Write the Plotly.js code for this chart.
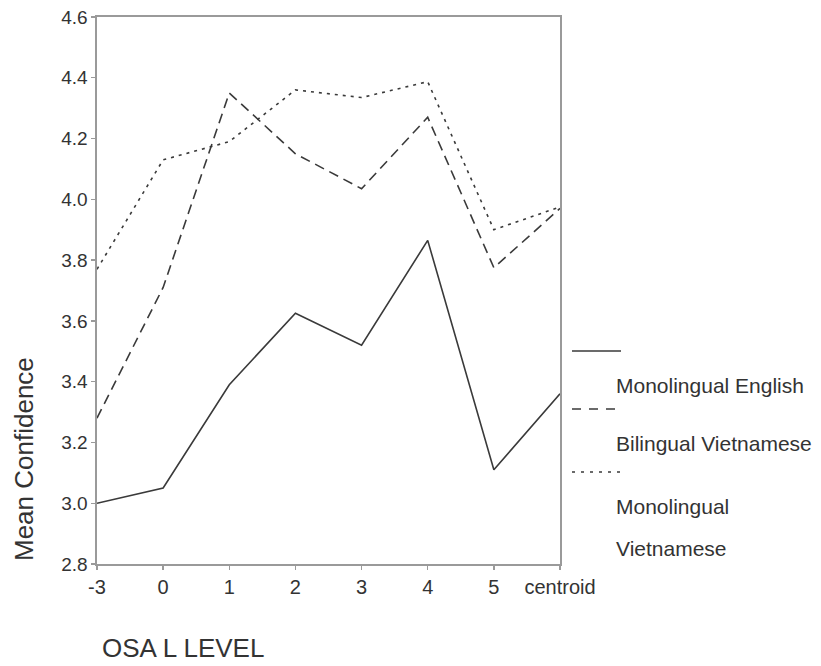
<!DOCTYPE html>
<html>
<head>
<meta charset="utf-8">
<script src="https://cdn.plot.ly/plotly-3.0.1.min.js"></script>
<style>html,body{margin:0;padding:0;background:#fff;}#chart{width:821px;height:666px;}</style>
</head>
<body>
<div id="chart"></div>
<script>
var categories = ["-3", "0", "1", "2", "3", "4", "5", "centroid"];
var monolingualEnglish = [3.00, 3.05, 3.39, 3.625, 3.52, 3.865, 3.11, 3.36];
var bilingualVietnamese = [3.28, 3.71, 4.35, 4.15, 4.035, 4.27, 3.775, 3.97];
var monolingualVietnamese = [3.77, 4.13, 4.19, 4.36, 4.335, 4.387, 3.90, 3.975];
var seriesNames = ["Monolingual English", "Bilingual Vietnamese", "Monolingual", "Vietnamese"];
var yTicks = [2.8, 3.0, 3.2, 3.4, 3.6, 3.8, 4.0, 4.2, 4.4, 4.6];

var lineColor = "#3a3a3a";
var textColor = "#333333";
var font = "Liberation Sans, Arial, sans-serif";

var traces = [
  {x: categories, y: monolingualEnglish, type: "scatter", mode: "lines",
   line: {color: lineColor, width: 1.6, dash: "solid"}, name: seriesNames[0]},
  {x: categories, y: bilingualVietnamese, type: "scatter", mode: "lines",
   line: {color: lineColor, width: 1.6, dash: "10px,6px"}, name: seriesNames[1]},
  {x: categories, y: monolingualVietnamese, type: "scatter", mode: "lines",
   line: {color: lineColor, width: 1.6, dash: "3px,5px"}, name: seriesNames[2] + " " + seriesNames[3]}
];

var L = 97, R = 560, T = 17, B = 564;
function px(x) { return (x - L) / (R - L); }
function py(y) { return (B - y) / (B - T); }

var legendLines = [
  {y: 351, dash: "solid"},
  {y: 409, dash: "9px,8px"},
  {y: 472, dash: "3px,6px"}
];
var shapes = legendLines.map(function (d) {
  return {type: "line", xref: "paper", yref: "paper",
    x0: px(572), x1: px(621), y0: py(d.y), y1: py(d.y),
    line: {color: lineColor, width: 1.4, dash: d.dash}};
});

var legendTextY = [385, 443, 506, 548];
var annotations = seriesNames.map(function (t, i) {
  return {text: t, xref: "paper", yref: "paper", x: px(614), y: py(legendTextY[i]),
    xanchor: "left", yanchor: "middle", showarrow: false,
    font: {family: font, size: 21, color: textColor}};
});
annotations.push({text: "Mean Confidence", xref: "paper", yref: "paper",
  x: px(24), y: py(459), xanchor: "center", yanchor: "middle", textangle: -90,
  showarrow: false, font: {family: font, size: 26, color: textColor}});
annotations.push({text: "OSA L LEVEL", xref: "paper", yref: "paper",
  x: px(100), y: py(648), xanchor: "left", yanchor: "middle",
  showarrow: false, font: {family: font, size: 26, color: textColor}});

var layout = {
  width: 821, height: 666,
  margin: {l: L, r: 821 - R, t: T, b: 666 - B, pad: 0},
  paper_bgcolor: "#ffffff", plot_bgcolor: "#ffffff",
  showlegend: false,
  font: {family: font, color: textColor, size: 20},
  xaxis: {type: "category", range: [0, 7], showgrid: false, zeroline: false,
    showline: true, linecolor: "#9a9a9a", linewidth: 1.6, mirror: true,
    ticks: "outside", ticklen: 4, tickcolor: "#9a9a9a", tickwidth: 1.4,
    tickfont: {family: font, size: 20, color: textColor}, fixedrange: true},
  yaxis: {range: [2.8, 4.6], tickvals: yTicks, ticktext: yTicks.map(function (v) { return v.toFixed(1); }),
    showgrid: false, zeroline: false,
    showline: true, linecolor: "#9a9a9a", linewidth: 1.6, mirror: true,
    ticks: "outside", ticklen: 4, tickcolor: "#9a9a9a", tickwidth: 1.4,
    tickfont: {family: font, size: 19, color: textColor}, fixedrange: true},
  shapes: shapes,
  annotations: annotations
};

Plotly.newPlot("chart", traces, layout, {displayModeBar: false, staticPlot: true});
</script>
</body>
</html>
